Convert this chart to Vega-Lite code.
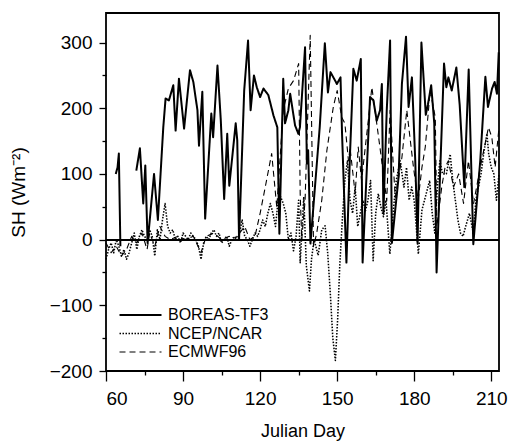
{
  "$schema": "https://vega.github.io/schema/vega-lite/v6.json",
  "width": 393,
  "height": 358,
  "autosize": {"type": "none"},
  "padding": {"left": 106, "top": 13, "right": 9, "bottom": 72},
  "background": "white",
  "config": {
    "font": "Liberation Sans",
    "view": {"stroke": "black", "strokeWidth": 1.8},
    "axis": {"domainColor": "black", "tickColor": "black", "labelColor": "black", "titleColor": "black", "grid": false, "domainWidth": 1.5, "tickWidth": 1.3}
  },
  "datasets": {
    "sh": [
      {"d": 63.8, "v": 100, "s": "BOREAS-TF3"},
      {"d": 64.5, "v": 110, "s": "BOREAS-TF3"},
      {"d": 65.0, "v": 131, "s": "BOREAS-TF3"},
      {"d": 65.6, "v": -10, "s": "BOREAS-TF3"},
      {"d": 68.0, "v": null, "s": "BOREAS-TF3"},
      {"d": 71.8, "v": 105, "s": "BOREAS-TF3"},
      {"d": 73.2, "v": 139, "s": "BOREAS-TF3"},
      {"d": 74.5, "v": 55, "s": "BOREAS-TF3"},
      {"d": 75.3, "v": 113, "s": "BOREAS-TF3"},
      {"d": 76.2, "v": -5, "s": "BOREAS-TF3"},
      {"d": 78.7, "v": 100, "s": "BOREAS-TF3"},
      {"d": 80.2, "v": 30, "s": "BOREAS-TF3"},
      {"d": 82.3, "v": 171, "s": "BOREAS-TF3"},
      {"d": 83.2, "v": 215, "s": "BOREAS-TF3"},
      {"d": 84.5, "v": 212, "s": "BOREAS-TF3"},
      {"d": 86.2, "v": 235, "s": "BOREAS-TF3"},
      {"d": 87.1, "v": 166, "s": "BOREAS-TF3"},
      {"d": 88.4, "v": 245, "s": "BOREAS-TF3"},
      {"d": 90.4, "v": 169, "s": "BOREAS-TF3"},
      {"d": 92.7, "v": 258, "s": "BOREAS-TF3"},
      {"d": 94.0, "v": 240, "s": "BOREAS-TF3"},
      {"d": 95.6, "v": 197, "s": "BOREAS-TF3"},
      {"d": 96.2, "v": 143, "s": "BOREAS-TF3"},
      {"d": 97.5, "v": 225, "s": "BOREAS-TF3"},
      {"d": 98.6, "v": 32, "s": "BOREAS-TF3"},
      {"d": 101.0, "v": 192, "s": "BOREAS-TF3"},
      {"d": 101.7, "v": 156, "s": "BOREAS-TF3"},
      {"d": 103.4, "v": 265, "s": "BOREAS-TF3"},
      {"d": 104.7, "v": 181, "s": "BOREAS-TF3"},
      {"d": 106.0, "v": 62, "s": "BOREAS-TF3"},
      {"d": 107.2, "v": 161, "s": "BOREAS-TF3"},
      {"d": 108.0, "v": 82, "s": "BOREAS-TF3"},
      {"d": 110.5, "v": 177, "s": "BOREAS-TF3"},
      {"d": 111.1, "v": 151, "s": "BOREAS-TF3"},
      {"d": 111.8, "v": 0, "s": "BOREAS-TF3"},
      {"d": 113.8, "v": 227, "s": "BOREAS-TF3"},
      {"d": 115.3, "v": 303, "s": "BOREAS-TF3"},
      {"d": 116.3, "v": 197, "s": "BOREAS-TF3"},
      {"d": 117.6, "v": 250, "s": "BOREAS-TF3"},
      {"d": 118.7, "v": 232, "s": "BOREAS-TF3"},
      {"d": 120.0, "v": 217, "s": "BOREAS-TF3"},
      {"d": 121.3, "v": 230, "s": "BOREAS-TF3"},
      {"d": 123.2, "v": 220, "s": "BOREAS-TF3"},
      {"d": 125.2, "v": 189, "s": "BOREAS-TF3"},
      {"d": 126.7, "v": 171, "s": "BOREAS-TF3"},
      {"d": 127.5, "v": 9, "s": "BOREAS-TF3"},
      {"d": 129.0, "v": 245, "s": "BOREAS-TF3"},
      {"d": 129.7, "v": 177, "s": "BOREAS-TF3"},
      {"d": 131.0, "v": 197, "s": "BOREAS-TF3"},
      {"d": 131.7, "v": 222, "s": "BOREAS-TF3"},
      {"d": 133.6, "v": 174, "s": "BOREAS-TF3"},
      {"d": 134.9, "v": 161, "s": "BOREAS-TF3"},
      {"d": 135.5, "v": 171, "s": "BOREAS-TF3"},
      {"d": 137.5, "v": 293, "s": "BOREAS-TF3"},
      {"d": 138.2, "v": 116, "s": "BOREAS-TF3"},
      {"d": 138.7, "v": 136, "s": "BOREAS-TF3"},
      {"d": 139.6, "v": -6, "s": "BOREAS-TF3"},
      {"d": 143.2, "v": 171, "s": "BOREAS-TF3"},
      {"d": 145.2, "v": 299, "s": "BOREAS-TF3"},
      {"d": 146.4, "v": 224, "s": "BOREAS-TF3"},
      {"d": 147.4, "v": 255, "s": "BOREAS-TF3"},
      {"d": 149.9, "v": 237, "s": "BOREAS-TF3"},
      {"d": 151.3, "v": 247, "s": "BOREAS-TF3"},
      {"d": 151.9, "v": 161, "s": "BOREAS-TF3"},
      {"d": 153.6, "v": -35, "s": "BOREAS-TF3"},
      {"d": 155.0, "v": 131, "s": "BOREAS-TF3"},
      {"d": 156.3, "v": 260, "s": "BOREAS-TF3"},
      {"d": 157.6, "v": 242, "s": "BOREAS-TF3"},
      {"d": 159.2, "v": 275, "s": "BOREAS-TF3"},
      {"d": 159.9, "v": -35, "s": "BOREAS-TF3"},
      {"d": 162.8, "v": 217, "s": "BOREAS-TF3"},
      {"d": 164.1, "v": 212, "s": "BOREAS-TF3"},
      {"d": 165.4, "v": 181, "s": "BOREAS-TF3"},
      {"d": 166.7, "v": 197, "s": "BOREAS-TF3"},
      {"d": 167.4, "v": 237, "s": "BOREAS-TF3"},
      {"d": 168.0, "v": 40, "s": "BOREAS-TF3"},
      {"d": 169.3, "v": 197, "s": "BOREAS-TF3"},
      {"d": 170.6, "v": 303, "s": "BOREAS-TF3"},
      {"d": 171.3, "v": -5, "s": "BOREAS-TF3"},
      {"d": 173.9, "v": 95, "s": "BOREAS-TF3"},
      {"d": 175.2, "v": 237, "s": "BOREAS-TF3"},
      {"d": 176.8, "v": 309, "s": "BOREAS-TF3"},
      {"d": 177.8, "v": 202, "s": "BOREAS-TF3"},
      {"d": 179.1, "v": 247, "s": "BOREAS-TF3"},
      {"d": 180.4, "v": 120, "s": "BOREAS-TF3"},
      {"d": 181.3, "v": -5, "s": "BOREAS-TF3"},
      {"d": 182.8, "v": 300, "s": "BOREAS-TF3"},
      {"d": 184.5, "v": 190, "s": "BOREAS-TF3"},
      {"d": 185.3, "v": 205, "s": "BOREAS-TF3"},
      {"d": 186.6, "v": 235, "s": "BOREAS-TF3"},
      {"d": 187.8, "v": 177, "s": "BOREAS-TF3"},
      {"d": 188.7, "v": -50, "s": "BOREAS-TF3"},
      {"d": 191.6, "v": 268, "s": "BOREAS-TF3"},
      {"d": 192.5, "v": 232, "s": "BOREAS-TF3"},
      {"d": 193.3, "v": 247, "s": "BOREAS-TF3"},
      {"d": 194.6, "v": 227, "s": "BOREAS-TF3"},
      {"d": 196.4, "v": 262, "s": "BOREAS-TF3"},
      {"d": 197.7, "v": 205, "s": "BOREAS-TF3"},
      {"d": 199.5, "v": 80, "s": "BOREAS-TF3"},
      {"d": 201.2, "v": 259, "s": "BOREAS-TF3"},
      {"d": 203.0, "v": -7, "s": "BOREAS-TF3"},
      {"d": 205.7, "v": 120, "s": "BOREAS-TF3"},
      {"d": 207.7, "v": 248, "s": "BOREAS-TF3"},
      {"d": 208.7, "v": 202, "s": "BOREAS-TF3"},
      {"d": 210.3, "v": 230, "s": "BOREAS-TF3"},
      {"d": 211.3, "v": 240, "s": "BOREAS-TF3"},
      {"d": 212.2, "v": 222, "s": "BOREAS-TF3"},
      {"d": 212.9, "v": 285, "s": "BOREAS-TF3"},

      {"d": 60, "v": -30, "s": "NCEP/NCAR"},
      {"d": 61, "v": -15, "s": "NCEP/NCAR"},
      {"d": 62, "v": -5, "s": "NCEP/NCAR"},
      {"d": 63, "v": -20, "s": "NCEP/NCAR"},
      {"d": 64, "v": 0, "s": "NCEP/NCAR"},
      {"d": 65, "v": -10, "s": "NCEP/NCAR"},
      {"d": 66, "v": -25, "s": "NCEP/NCAR"},
      {"d": 67, "v": -15, "s": "NCEP/NCAR"},
      {"d": 68, "v": -30, "s": "NCEP/NCAR"},
      {"d": 69, "v": -20, "s": "NCEP/NCAR"},
      {"d": 70, "v": -5, "s": "NCEP/NCAR"},
      {"d": 71, "v": 10, "s": "NCEP/NCAR"},
      {"d": 72, "v": -15, "s": "NCEP/NCAR"},
      {"d": 73, "v": 5, "s": "NCEP/NCAR"},
      {"d": 74, "v": 15, "s": "NCEP/NCAR"},
      {"d": 75, "v": 5, "s": "NCEP/NCAR"},
      {"d": 76, "v": 0, "s": "NCEP/NCAR"},
      {"d": 77, "v": 15, "s": "NCEP/NCAR"},
      {"d": 78, "v": 5, "s": "NCEP/NCAR"},
      {"d": 79, "v": -25, "s": "NCEP/NCAR"},
      {"d": 80, "v": 15, "s": "NCEP/NCAR"},
      {"d": 81, "v": 0, "s": "NCEP/NCAR"},
      {"d": 82, "v": 30, "s": "NCEP/NCAR"},
      {"d": 83, "v": 55, "s": "NCEP/NCAR"},
      {"d": 84, "v": 20, "s": "NCEP/NCAR"},
      {"d": 85, "v": 10, "s": "NCEP/NCAR"},
      {"d": 86, "v": 15, "s": "NCEP/NCAR"},
      {"d": 87, "v": 0, "s": "NCEP/NCAR"},
      {"d": 88, "v": 5, "s": "NCEP/NCAR"},
      {"d": 89, "v": -5, "s": "NCEP/NCAR"},
      {"d": 90, "v": 10, "s": "NCEP/NCAR"},
      {"d": 91, "v": 5, "s": "NCEP/NCAR"},
      {"d": 92, "v": 0, "s": "NCEP/NCAR"},
      {"d": 93, "v": 10, "s": "NCEP/NCAR"},
      {"d": 94, "v": 5, "s": "NCEP/NCAR"},
      {"d": 95, "v": 0, "s": "NCEP/NCAR"},
      {"d": 96, "v": -10, "s": "NCEP/NCAR"},
      {"d": 97, "v": -30, "s": "NCEP/NCAR"},
      {"d": 98, "v": -5, "s": "NCEP/NCAR"},
      {"d": 99, "v": 5, "s": "NCEP/NCAR"},
      {"d": 100, "v": 0, "s": "NCEP/NCAR"},
      {"d": 101, "v": 10, "s": "NCEP/NCAR"},
      {"d": 102, "v": 15, "s": "NCEP/NCAR"},
      {"d": 103, "v": 5, "s": "NCEP/NCAR"},
      {"d": 104, "v": 10, "s": "NCEP/NCAR"},
      {"d": 105, "v": -5, "s": "NCEP/NCAR"},
      {"d": 106, "v": 0, "s": "NCEP/NCAR"},
      {"d": 107, "v": 5, "s": "NCEP/NCAR"},
      {"d": 108, "v": -10, "s": "NCEP/NCAR"},
      {"d": 109, "v": 0, "s": "NCEP/NCAR"},
      {"d": 110, "v": 5, "s": "NCEP/NCAR"},
      {"d": 111, "v": 0, "s": "NCEP/NCAR"},
      {"d": 112, "v": 10, "s": "NCEP/NCAR"},
      {"d": 113, "v": 30, "s": "NCEP/NCAR"},
      {"d": 114, "v": 5, "s": "NCEP/NCAR"},
      {"d": 115, "v": 0, "s": "NCEP/NCAR"},
      {"d": 116, "v": -10, "s": "NCEP/NCAR"},
      {"d": 117, "v": 0, "s": "NCEP/NCAR"},
      {"d": 118, "v": 10, "s": "NCEP/NCAR"},
      {"d": 119, "v": 5, "s": "NCEP/NCAR"},
      {"d": 120, "v": 15, "s": "NCEP/NCAR"},
      {"d": 121, "v": 30, "s": "NCEP/NCAR"},
      {"d": 122, "v": 20, "s": "NCEP/NCAR"},
      {"d": 123, "v": 40, "s": "NCEP/NCAR"},
      {"d": 124, "v": 55, "s": "NCEP/NCAR"},
      {"d": 125, "v": 40, "s": "NCEP/NCAR"},
      {"d": 126, "v": 20, "s": "NCEP/NCAR"},
      {"d": 127, "v": 60, "s": "NCEP/NCAR"},
      {"d": 128, "v": 65, "s": "NCEP/NCAR"},
      {"d": 129, "v": 55, "s": "NCEP/NCAR"},
      {"d": 130, "v": 40, "s": "NCEP/NCAR"},
      {"d": 131, "v": 0, "s": "NCEP/NCAR"},
      {"d": 132, "v": 10, "s": "NCEP/NCAR"},
      {"d": 133, "v": -17, "s": "NCEP/NCAR"},
      {"d": 134, "v": 5, "s": "NCEP/NCAR"},
      {"d": 135, "v": 60, "s": "NCEP/NCAR"},
      {"d": 135.6, "v": -35, "s": "NCEP/NCAR"},
      {"d": 137, "v": 65, "s": "NCEP/NCAR"},
      {"d": 138, "v": -40, "s": "NCEP/NCAR"},
      {"d": 139.2, "v": -78, "s": "NCEP/NCAR"},
      {"d": 140, "v": -30, "s": "NCEP/NCAR"},
      {"d": 141, "v": 0, "s": "NCEP/NCAR"},
      {"d": 142.6, "v": -24, "s": "NCEP/NCAR"},
      {"d": 144, "v": 15, "s": "NCEP/NCAR"},
      {"d": 145.3, "v": 21, "s": "NCEP/NCAR"},
      {"d": 146.3, "v": -20, "s": "NCEP/NCAR"},
      {"d": 147.3, "v": -80, "s": "NCEP/NCAR"},
      {"d": 148.3, "v": -150, "s": "NCEP/NCAR"},
      {"d": 149.3, "v": -184, "s": "NCEP/NCAR"},
      {"d": 150.2, "v": -120, "s": "NCEP/NCAR"},
      {"d": 151, "v": -40, "s": "NCEP/NCAR"},
      {"d": 152, "v": 30, "s": "NCEP/NCAR"},
      {"d": 153, "v": 90, "s": "NCEP/NCAR"},
      {"d": 154, "v": 120, "s": "NCEP/NCAR"},
      {"d": 155, "v": 60, "s": "NCEP/NCAR"},
      {"d": 156, "v": 40, "s": "NCEP/NCAR"},
      {"d": 157, "v": 80, "s": "NCEP/NCAR"},
      {"d": 158, "v": 20, "s": "NCEP/NCAR"},
      {"d": 159, "v": 40, "s": "NCEP/NCAR"},
      {"d": 160, "v": 60, "s": "NCEP/NCAR"},
      {"d": 161, "v": 44, "s": "NCEP/NCAR"},
      {"d": 162, "v": 60, "s": "NCEP/NCAR"},
      {"d": 163, "v": 90, "s": "NCEP/NCAR"},
      {"d": 164, "v": -32, "s": "NCEP/NCAR"},
      {"d": 165, "v": 40, "s": "NCEP/NCAR"},
      {"d": 166, "v": 70, "s": "NCEP/NCAR"},
      {"d": 167, "v": 50, "s": "NCEP/NCAR"},
      {"d": 168, "v": 35, "s": "NCEP/NCAR"},
      {"d": 169, "v": 60, "s": "NCEP/NCAR"},
      {"d": 170.5, "v": -22, "s": "NCEP/NCAR"},
      {"d": 172, "v": 50, "s": "NCEP/NCAR"},
      {"d": 173, "v": 90, "s": "NCEP/NCAR"},
      {"d": 174.5, "v": 120, "s": "NCEP/NCAR"},
      {"d": 176, "v": 80, "s": "NCEP/NCAR"},
      {"d": 177, "v": 110, "s": "NCEP/NCAR"},
      {"d": 178, "v": 60, "s": "NCEP/NCAR"},
      {"d": 179, "v": 80, "s": "NCEP/NCAR"},
      {"d": 180, "v": 59, "s": "NCEP/NCAR"},
      {"d": 181.6, "v": -22, "s": "NCEP/NCAR"},
      {"d": 183, "v": 45, "s": "NCEP/NCAR"},
      {"d": 184, "v": 60, "s": "NCEP/NCAR"},
      {"d": 185, "v": 75, "s": "NCEP/NCAR"},
      {"d": 186, "v": 90, "s": "NCEP/NCAR"},
      {"d": 187, "v": 40, "s": "NCEP/NCAR"},
      {"d": 188, "v": 10, "s": "NCEP/NCAR"},
      {"d": 189, "v": 80, "s": "NCEP/NCAR"},
      {"d": 190, "v": 120, "s": "NCEP/NCAR"},
      {"d": 191, "v": 100, "s": "NCEP/NCAR"},
      {"d": 192.5, "v": 100, "s": "NCEP/NCAR"},
      {"d": 194, "v": 130, "s": "NCEP/NCAR"},
      {"d": 195, "v": 90, "s": "NCEP/NCAR"},
      {"d": 196, "v": 60, "s": "NCEP/NCAR"},
      {"d": 197, "v": 30, "s": "NCEP/NCAR"},
      {"d": 198, "v": 10, "s": "NCEP/NCAR"},
      {"d": 199, "v": 5, "s": "NCEP/NCAR"},
      {"d": 200, "v": 20, "s": "NCEP/NCAR"},
      {"d": 201.5, "v": 40, "s": "NCEP/NCAR"},
      {"d": 203, "v": 10, "s": "NCEP/NCAR"},
      {"d": 204, "v": 60, "s": "NCEP/NCAR"},
      {"d": 205, "v": 80, "s": "NCEP/NCAR"},
      {"d": 206, "v": 100, "s": "NCEP/NCAR"},
      {"d": 207, "v": 130, "s": "NCEP/NCAR"},
      {"d": 208.3, "v": 161, "s": "NCEP/NCAR"},
      {"d": 209, "v": 130, "s": "NCEP/NCAR"},
      {"d": 210, "v": 110, "s": "NCEP/NCAR"},
      {"d": 211, "v": 100, "s": "NCEP/NCAR"},
      {"d": 212, "v": 60, "s": "NCEP/NCAR"},
      {"d": 213, "v": 100, "s": "NCEP/NCAR"},

      {"d": 60, "v": -5, "s": "ECMWF96"},
      {"d": 62, "v": -20, "s": "ECMWF96"},
      {"d": 64, "v": -10, "s": "ECMWF96"},
      {"d": 66, "v": -25, "s": "ECMWF96"},
      {"d": 68, "v": -15, "s": "ECMWF96"},
      {"d": 70, "v": 5, "s": "ECMWF96"},
      {"d": 72, "v": -5, "s": "ECMWF96"},
      {"d": 74, "v": 10, "s": "ECMWF96"},
      {"d": 76, "v": -15, "s": "ECMWF96"},
      {"d": 77, "v": 10, "s": "ECMWF96"},
      {"d": 79, "v": -10, "s": "ECMWF96"},
      {"d": 81, "v": 20, "s": "ECMWF96"},
      {"d": 83, "v": 5, "s": "ECMWF96"},
      {"d": 85, "v": 0, "s": "ECMWF96"},
      {"d": 88, "v": 5, "s": "ECMWF96"},
      {"d": 91, "v": 0, "s": "ECMWF96"},
      {"d": 94, "v": 5, "s": "ECMWF96"},
      {"d": 97, "v": -20, "s": "ECMWF96"},
      {"d": 99, "v": 5, "s": "ECMWF96"},
      {"d": 102, "v": 10, "s": "ECMWF96"},
      {"d": 105, "v": 0, "s": "ECMWF96"},
      {"d": 108, "v": 5, "s": "ECMWF96"},
      {"d": 110, "v": 0, "s": "ECMWF96"},
      {"d": 112, "v": 10, "s": "ECMWF96"},
      {"d": 114, "v": 20, "s": "ECMWF96"},
      {"d": 116, "v": 0, "s": "ECMWF96"},
      {"d": 118, "v": 5, "s": "ECMWF96"},
      {"d": 120, "v": 40, "s": "ECMWF96"},
      {"d": 122, "v": 80, "s": "ECMWF96"},
      {"d": 124.5, "v": 131, "s": "ECMWF96"},
      {"d": 126.5, "v": 49, "s": "ECMWF96"},
      {"d": 129, "v": 197, "s": "ECMWF96"},
      {"d": 131, "v": 230, "s": "ECMWF96"},
      {"d": 133, "v": 242, "s": "ECMWF96"},
      {"d": 135, "v": 268, "s": "ECMWF96"},
      {"d": 135.6, "v": 70, "s": "ECMWF96"},
      {"d": 136.2, "v": 0, "s": "ECMWF96"},
      {"d": 137.5, "v": 59, "s": "ECMWF96"},
      {"d": 139.5, "v": 311, "s": "ECMWF96"},
      {"d": 140.8, "v": -10, "s": "ECMWF96"},
      {"d": 142, "v": 9, "s": "ECMWF96"},
      {"d": 144, "v": 60, "s": "ECMWF96"},
      {"d": 146, "v": 136, "s": "ECMWF96"},
      {"d": 148.5, "v": 202, "s": "ECMWF96"},
      {"d": 150, "v": 227, "s": "ECMWF96"},
      {"d": 151.8, "v": 186, "s": "ECMWF96"},
      {"d": 153, "v": 177, "s": "ECMWF96"},
      {"d": 154.4, "v": 120, "s": "ECMWF96"},
      {"d": 155, "v": 140, "s": "ECMWF96"},
      {"d": 157, "v": 70, "s": "ECMWF96"},
      {"d": 158.2, "v": 141, "s": "ECMWF96"},
      {"d": 159.5, "v": 90, "s": "ECMWF96"},
      {"d": 162.1, "v": 181, "s": "ECMWF96"},
      {"d": 163.5, "v": 232, "s": "ECMWF96"},
      {"d": 165.4, "v": 177, "s": "ECMWF96"},
      {"d": 167, "v": 130, "s": "ECMWF96"},
      {"d": 169.3, "v": 59, "s": "ECMWF96"},
      {"d": 170.6, "v": 197, "s": "ECMWF96"},
      {"d": 172.6, "v": 64, "s": "ECMWF96"},
      {"d": 175.2, "v": 125, "s": "ECMWF96"},
      {"d": 177.1, "v": 197, "s": "ECMWF96"},
      {"d": 179.7, "v": 110, "s": "ECMWF96"},
      {"d": 181.5, "v": 60, "s": "ECMWF96"},
      {"d": 183, "v": 110, "s": "ECMWF96"},
      {"d": 184.3, "v": 141, "s": "ECMWF96"},
      {"d": 186.2, "v": 227, "s": "ECMWF96"},
      {"d": 188.2, "v": 186, "s": "ECMWF96"},
      {"d": 188.8, "v": 20, "s": "ECMWF96"},
      {"d": 190.7, "v": 80, "s": "ECMWF96"},
      {"d": 192, "v": 110, "s": "ECMWF96"},
      {"d": 193.3, "v": 120, "s": "ECMWF96"},
      {"d": 195.3, "v": 80, "s": "ECMWF96"},
      {"d": 197.3, "v": 100, "s": "ECMWF96"},
      {"d": 199.2, "v": 55, "s": "ECMWF96"},
      {"d": 201.1, "v": 120, "s": "ECMWF96"},
      {"d": 203.1, "v": 55, "s": "ECMWF96"},
      {"d": 205.7, "v": 110, "s": "ECMWF96"},
      {"d": 208.9, "v": 171, "s": "ECMWF96"},
      {"d": 210.2, "v": 156, "s": "ECMWF96"},
      {"d": 211.5, "v": 110, "s": "ECMWF96"},
      {"d": 213, "v": 171, "s": "ECMWF96"}
    ]
  },
  "data": {"name": "sh"},
  "resolve": {"axis": {"x": "independent", "y": "independent"}},
  "layer": [
    {
      "mark": {"type": "point", "opacity": 0},
      "encoding": {
        "x": {"field": "d", "type": "quantitative", "scale": {"domain": [60, 213], "nice": false, "zero": false},
          "axis": {"orient": "bottom", "values": [75, 105, 135, 165, 195], "labels": false, "title": null, "tickSize": 4, "domain": false}},
        "y": {"field": "v", "type": "quantitative", "scale": {"domain": [-200, 345], "nice": false, "zero": false},
          "axis": {"orient": "left", "values": [-150, -50, 50, 150, 250], "labels": false, "title": null, "tickSize": 4, "domain": false}}
      }
    },
    {
      "mark": {"type": "rule", "color": "black", "strokeWidth": 1},
      "encoding": {"y": {"datum": 0, "type": "quantitative", "axis": null}}
    },
    {
      "mark": {"type": "line", "color": "black", "invalid": "break-paths-filter-domains", "strokeJoin": "round"},
      "encoding": {
        "x": {"field": "d", "type": "quantitative",
          "axis": {"orient": "bottom", "values": [60, 90, 120, 150, 180, 210], "tickSize": 10, "labelFontSize": 19, "labelPadding": 8, "title": "Julian Day", "titleFontSize": 18, "titleFontWeight": "normal", "titlePadding": 14, "domain": false}},
        "y": {"field": "v", "type": "quantitative",
          "axis": {"orient": "left", "values": [-200, -100, 0, 100, 200, 300], "tickSize": 7, "labelFontSize": 19, "labelPadding": 7, "title": "SH (Wm⁻²)", "titleFontSize": 19, "titleFontWeight": "normal", "titlePadding": 21, "domain": false}},
        "strokeDash": {"field": "s", "type": "nominal",
          "scale": {"domain": ["BOREAS-TF3", "NCEP/NCAR", "ECMWF96"], "range": [[1, 0], [1.5, 1.5], [6, 4]]},
          "legend": {"title": null, "orient": "none", "legendX": 26.5, "legendY": 294, "labelFontSize": 16, "labelColor": "black", "symbolType": "M-3,0H3", "symbolSize": 196, "symbolStrokeWidth": 1.3, "symbolStrokeColor": "black", "labelOffset": 19.5, "rowPadding": 2.5, "padding": 0}},
        "strokeWidth": {"field": "s", "type": "nominal",
          "scale": {"domain": ["BOREAS-TF3", "NCEP/NCAR", "ECMWF96"], "range": [2, 1.1, 1.2]}, "legend": null}
      }
    }
  ]
}
